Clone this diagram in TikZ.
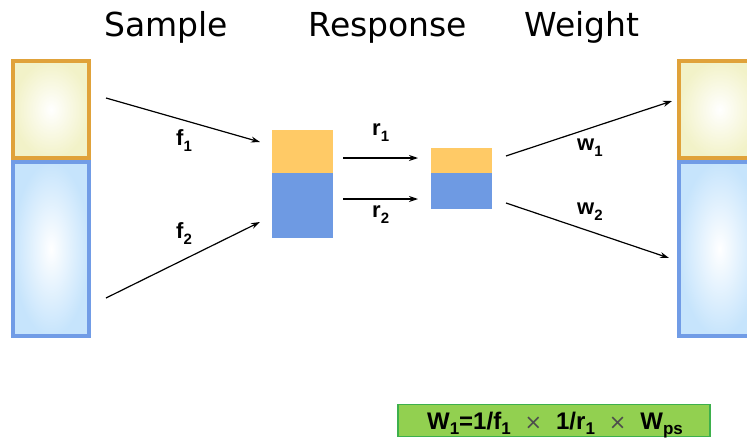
\documentclass[tikz,border=0pt]{standalone}
\usepackage{fontspec}
\setmainfont{Liberation Sans}
\newfontfamily\titlefont{DejaVu Sans}
\newfontfamily\symfont{DejaVu Sans}
\usetikzlibrary{arrows.meta}

\definecolor{ambeline}{HTML}{E0A23A}
\definecolor{ambefill}{HTML}{F2F2C8}
\definecolor{bluline}{HTML}{719CE6}
\definecolor{blufill}{HTML}{C6E4FC}
\definecolor{ambesolid}{HTML}{FFCA66}
\definecolor{blusolid}{HTML}{6E9AE3}
\definecolor{formfill}{HTML}{92D050}
\definecolor{formline}{HTML}{3DB04C}

% lowered index in the labels
\newcommand{\lowidx}[1]{\raisebox{-0.28em}{\fontsize{15}{15}\selectfont #1}}
\newcommand{\formidx}[1]{\raisebox{-0.2em}{\fontsize{17}{17}\selectfont #1}}
\newcommand{\timessign}{\hspace{0.58em}{\mdseries\symfont\color{black!70}\fontsize{21}{21}\selectfont ×}\hspace{0.58em}}

\tikzset{
  title/.style={font=\titlefont\fontsize{33}{33}\selectfont, anchor=base, inner sep=0pt},
  lbl/.style={font=\bfseries\fontsize{22}{22}\selectfont, anchor=base west, inner sep=0pt},
  ambebox/.style={shade, inner color=white, outer color=ambefill, draw=ambeline, line width=4pt, inner sep=0pt},
  blubox/.style={shade, inner color=white, outer color=blufill, draw=bluline, line width=4pt, inner sep=0pt},
  solidbox/.style={inner sep=0pt, draw=none},
  flow/.style={line width=1.2pt, -{Stealth[length=9pt,width=6pt]}},
}

\begin{document}
\begin{tikzpicture}[x=1pt, y=-1pt]
\useasboundingbox (0,0) rectangle (747,439);
\clip (0,0) rectangle (747,439);

% column titles
\node[title] (tsample) at (166,36) {Sample};
\node[title] (tresp) at (388,36) {Response};
\node[title] (tweight) at (582,36) {Weight};

% sample column (left)
\node[ambebox, minimum width=76pt, minimum height=97pt] (sa) at (51,109.5) {};
\node[blubox, minimum width=76pt, minimum height=174pt] (sb) at (51,249) {};

% weighted column (right)
\node[ambebox, minimum width=81pt, minimum height=97pt] (wa) at (719.5,109.5) {};
\node[blubox, minimum width=81pt, minimum height=174pt] (wb) at (719.5,249) {};

% response bars
\node[solidbox, fill=ambesolid, minimum width=61pt, minimum height=43pt] (ra) at (302.5,151.5) {};
\node[solidbox, fill=blusolid, minimum width=61pt, minimum height=65pt] (rb) at (302.5,205.5) {};
\node[solidbox, fill=ambesolid, minimum width=61pt, minimum height=25pt] (qa) at (461.5,160.5) {};
\node[solidbox, fill=blusolid, minimum width=61pt, minimum height=36pt] (qb) at (461.5,191) {};

% arrow end points
\coordinate (f1s) at (106,98);   \coordinate (f1e) at (260,142);
\coordinate (f2s) at (106,298);  \coordinate (f2e) at (260,222);
\coordinate (r1s) at (343,158);  \coordinate (r1e) at (418,158);
\coordinate (r2s) at (343,199);  \coordinate (r2e) at (418,199);
\coordinate (w1s) at (506,156);  \coordinate (w1e) at (672,101);
\coordinate (w2s) at (506,203);  \coordinate (w2e) at (669,258);

\draw[flow] (f1s) -- (f1e);
\draw[flow] (f2s) -- (f2e);
\draw[flow] (r1s) -- (r1e);
\draw[flow] (r2s) -- (r2e);
\draw[flow] (w1s) -- (w1e);
\draw[flow] (w2s) -- (w2e);

% arrow labels
\node[lbl] (lf1) at (176,145) {f\lowidx{1}};
\node[lbl] (lf2) at (176,238) {f\lowidx{2}};
\node[lbl] (lr1) at (372,135) {r\lowidx{1}};
\node[lbl] (lr2) at (372,217) {r\lowidx{2}};
\node[lbl] (lw1) at (577,150) {w\lowidx{1}};
\node[lbl] (lw2) at (577,214) {w\lowidx{2}};

% weight formula
\node[draw=formline, line width=1.5pt, fill=formfill, minimum width=312pt, minimum height=32pt, inner sep=0pt] (form) at (554,420.5) {};
\node[font=\bfseries\fontsize{24}{24}\selectfont, anchor=base, inner sep=0pt] (ftext) at (555,429.5)
  {W\formidx{1}=1/f\formidx{1}\timessign 1/r\formidx{1}\timessign W\formidx{ps}};
\end{tikzpicture}
\end{document}
